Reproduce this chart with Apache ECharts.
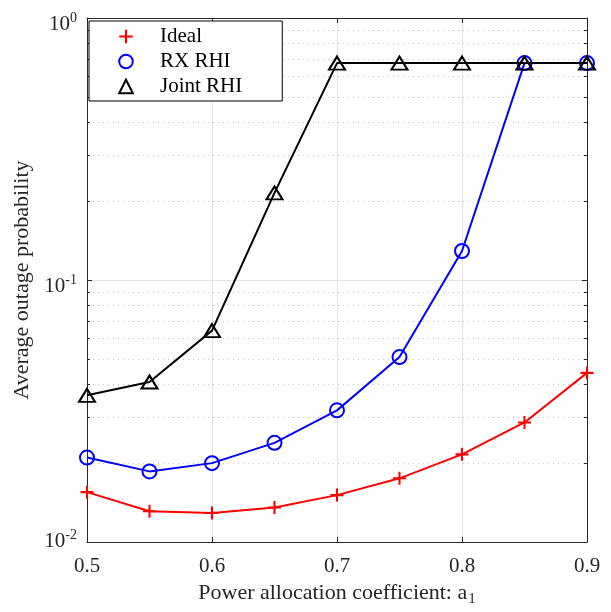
<!DOCTYPE html>
<html><head><meta charset="utf-8">
<script src="https://cdn.jsdelivr.net/npm/echarts@6/dist/echarts.min.js"></script>
<style>html,body{margin:0;padding:0;background:#fff}#c{width:611px;height:612px}</style>
</head><body><div id="c"></div>
<script>
// ---- data ----
const xValues = [0.5, 0.55, 0.6, 0.65, 0.7, 0.75, 0.8, 0.85, 0.9];
const ideal = [0.0155, 0.0131, 0.0129, 0.01355, 0.0151, 0.0175, 0.0216, 0.0286, 0.0442];
const rxRhi = [0.0210, 0.0186, 0.0200, 0.0239, 0.0318, 0.0508, 0.129, 0.673, 0.673];
const jointRhi = [0.0363, 0.0408, 0.0641, 0.215, 0.673, 0.673, 0.673, 0.673, 0.673];
const seriesNames = ['Ideal', 'RX RHI', 'Joint RHI'];
const xTickLabels = ['0.5', '0.6', '0.7', '0.8', '0.9'];
const yDecades = [0.01, 0.1, 1];
const xTitle = 'Power allocation coefficient: a';
const xTitleSub = '1';
const yTitle = 'Average outage probability';

// minor gridline values (2..9 of each decade)
const minorY = [];
for (let i = 0; i < yDecades.length - 1; i++) {
  for (let k = 2; k <= 9; k++) minorY.push(+(k * yDecades[i]).toPrecision(3));
}
const xMin = 0.5, xMax = 0.9;
const FONT = '"Liberation Serif", "Times New Roman", serif';
const AX = '#262626';

const pair = arr => xValues.map((x, i) => [x, arr[i]]);
const plusPath = 'path://M4.2,0H5.8V4.2H10V5.8H5.8V10H4.2V5.8H0V4.2H4.2Z';

const chart = echarts.init(document.getElementById('c'));
chart.setOption({
  animation: false,
  backgroundColor: '#fff',
  textStyle: { fontFamily: FONT },
  grid: { left: 87, right: 24, top: 18, bottom: 68 },
  legend: {
    data: seriesNames,
    orient: 'vertical',
    left: 89, top: 21,
    backgroundColor: '#fff',
    borderColor: '#000', borderWidth: 1,
    padding: [5, 40, 4, 22],
    itemWidth: 28, itemHeight: 17, itemGap: 4,
    lineStyle: { opacity: 0 },
    textStyle: { fontFamily: FONT, fontSize: 21, color: '#000', padding: [0, 0, 0, 15] }
  },
  xAxis: [{
    type: 'value', min: xMin, max: xMax, interval: 0.1,
    name: xTitle + '{sub|' + xTitleSub + '}',
    nameLocation: 'middle', nameGap: 37,
    nameTextStyle: { fontFamily: FONT, fontSize: 22, color: AX,
      rich: { sub: { fontFamily: FONT, fontSize: 15, color: AX, padding: [13, 0, 0, 1] } } },
    axisLine: { show: true, lineStyle: { color: AX, width: 1 } },
    axisTick: { show: true, inside: true, length: 5, lineStyle: { color: AX } },
    axisLabel: { fontFamily: FONT, fontSize: 21, color: AX, margin: 14,
      formatter: v => { const s = xTickLabels.find(t => Math.abs(+t - v) < 1e-9); return s || ''; } },
    splitLine: { show: true, lineStyle: { color: '#e3e3e3', width: 1 } }
  }, {
    type: 'value', min: xMin, max: xMax, interval: 0.1, position: 'top',
    axisLine: { show: true, lineStyle: { color: AX, width: 1 } },
    axisTick: { show: true, inside: true, length: 5, lineStyle: { color: AX } },
    axisLabel: { show: false }, splitLine: { show: false }
  }],
  yAxis: [{
    type: 'log', logBase: 10, min: yDecades[0], max: yDecades[yDecades.length - 1],
    name: yTitle, nameLocation: 'middle', nameGap: 53,
    nameTextStyle: { fontFamily: FONT, fontSize: 22, color: AX },
    axisLine: { show: true, lineStyle: { color: AX, width: 1 } },
    axisTick: { show: true, inside: true, length: 5, lineStyle: { color: AX } },
    axisLabel: {
      fontFamily: FONT, fontSize: 21, color: AX, margin: 10,
      formatter: v => {
        const e = Math.round(Math.log10(v));
        return v <= yDecades[0] * 1.0001
          ? '{b2|10}{s2|' + e + '}'
          : '{b|10}{s|' + e + '}';
      },
      rich: {
        b: { fontFamily: FONT, fontSize: 21, color: AX, padding: [12, 0, 0, 0] },
        s: { fontFamily: FONT, fontSize: 14, color: AX },
        b2: { fontFamily: FONT, fontSize: 21, color: AX, padding: [0, 0, 2, 0] },
        s2: { fontFamily: FONT, fontSize: 14, color: AX, padding: [0, 0, 14, 0] }
      }
    },
    splitLine: { show: true, lineStyle: { color: '#e3e3e3', width: 1 } }
  }, {
    type: 'log', logBase: 10, min: yDecades[0], max: yDecades[yDecades.length - 1], position: 'right',
    axisLine: { show: true, lineStyle: { color: AX, width: 1 } },
    axisTick: { show: true, inside: true, length: 5, lineStyle: { color: AX } },
    axisLabel: { show: false }, splitLine: { show: false }
  }],
  series: [
    {
      name: 'minor', type: 'custom', z: 1, silent: true,
      data: minorY.map(v => [xMin, v]),
      renderItem: (params, api) => {
        const v = api.value(1);
        const p1 = api.coord([xMin, v]);
        const p2 = api.coord([xMax, v]);
        const y = Math.round(p1[1]) + 0.5;
        return {
          type: 'group', children: [
            { type: 'line', shape: { x1: p1[0] + 1, y1: y, x2: p2[0] - 1, y2: y },
              style: { stroke: '#c4c4c4', lineWidth: 1, lineDash: [1, 4] } },
            { type: 'line', shape: { x1: p1[0], y1: y, x2: p1[0] + 3, y2: y },
              style: { stroke: AX, lineWidth: 1 } },
            { type: 'line', shape: { x1: p2[0] - 3, y1: y, x2: p2[0], y2: y },
              style: { stroke: AX, lineWidth: 1 } }
          ]
        };
      }
    },
    {
      name: seriesNames[0], type: 'line', z: 4, data: pair(ideal),
      symbol: plusPath, symbolSize: 13,
      itemStyle: { color: '#ff0000' },
      lineStyle: { color: '#ff0000', width: 2 }
    },
    {
      name: seriesNames[1], type: 'line', z: 3, data: pair(rxRhi),
      symbol: 'circle', symbolSize: 14,
      itemStyle: { color: 'rgba(255,255,255,0)', borderColor: '#0000ff', borderWidth: 2 },
      lineStyle: { color: '#0000ff', width: 2 }
    },
    {
      name: seriesNames[2], type: 'line', z: 5, data: pair(jointRhi),
      symbol: 'triangle', symbolSize: [16, 13],
      itemStyle: { color: 'rgba(255,255,255,0)', borderColor: '#000000', borderWidth: 2 },
      lineStyle: { color: '#000000', width: 2 }
    }
  ]
});
</script></body></html>
